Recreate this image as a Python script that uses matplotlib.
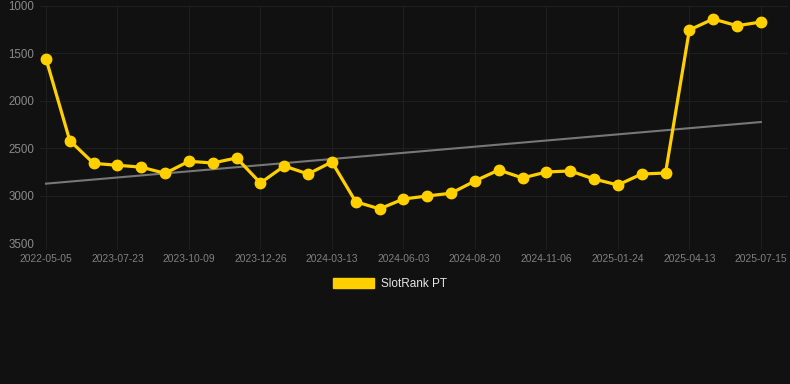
import matplotlib
matplotlib.use("Agg")
import matplotlib.pyplot as plt
from matplotlib.patches import Patch

plt.rcParams['font.family'] = ['Liberation Sans', 'DejaVu Sans']

dates = ["2022-05-05", "2023-05-06", "2023-06-14", "2023-07-23", "2023-08-18",
         "2023-09-13", "2023-10-09", "2023-11-04", "2023-11-30", "2023-12-26",
         "2024-01-21", "2024-02-16", "2024-03-13", "2024-04-09", "2024-05-06",
         "2024-06-03", "2024-06-29", "2024-07-25", "2024-08-20", "2024-09-15",
         "2024-10-11", "2024-11-06", "2024-12-02", "2024-12-28", "2025-01-24",
         "2025-02-19", "2025-03-17", "2025-04-13", "2025-05-14", "2025-06-14",
         "2025-07-15"]
rank = [1555, 2420, 2660, 2680, 2700, 2765, 2638, 2656, 2603, 2867,
        2688, 2772, 2645, 3065, 3140, 3036, 3004, 2975, 2846, 2730,
        2814, 2751, 2740, 2825, 2888, 2772, 2762, 1253, 1137, 1208,
        1169]
trend_start, trend_end = 2874, 2224

bg = "#111111"
gold = "#ffd000"

fig = plt.figure(figsize=(7.9, 3.84), dpi=100, facecolor=bg)
ax = fig.add_axes([40 / 790, 1 - 243 / 384, 748 / 790, 237 / 384], facecolor=bg)

x = list(range(len(dates)))
ax.plot([x[0], x[-1]], [trend_start, trend_end], color="#777777", lw=1.5, zorder=2)
ax.plot(x, rank, color=gold, lw=2.3, marker="o", markersize=7.5, zorder=3)

ax.set_ylim(3500, 1000)
ax.set_xlim(-0.25, 31.14)
ax.set_yticks([1000, 1500, 2000, 2500, 3000, 3500])
ax.set_xticks(x[::3])
ax.set_xticklabels(dates[::3])

ax.grid(True, color="#1f1f1f", lw=0.8)
ax.set_axisbelow(True)
for s in ax.spines.values():
    s.set_visible(False)
ax.tick_params(axis="y", colors="#8a8a8a", labelsize=8.3, length=0, pad=4)
ax.tick_params(axis="x", colors="#1f1f1f", labelcolor="#808080", labelsize=7.4, length=4, pad=4)

fig.legend(handles=[Patch(color=gold, label="SlotRank PT")], loc="center",
           bbox_to_anchor=(390 / 790, 1 - 284 / 384), frameon=False,
           handlelength=3.4, handleheight=0.95, fontsize=8.5, labelcolor="#e6e6e6",
           handletextpad=0.6)

fig.savefig("out.png", dpi=100, facecolor=bg)
